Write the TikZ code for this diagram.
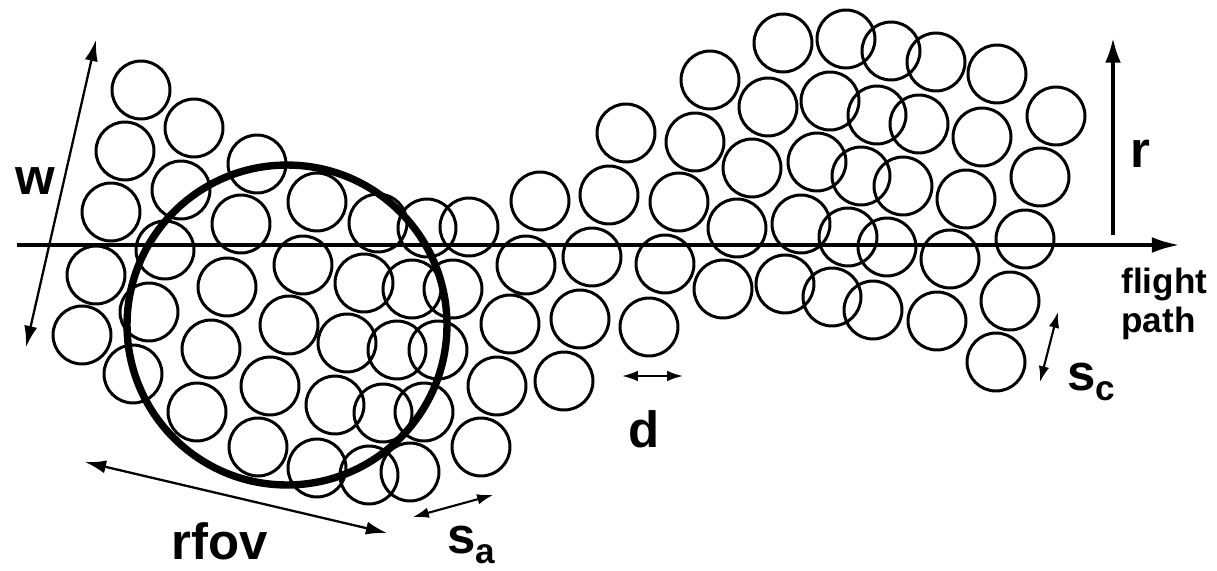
\documentclass[tikz,border=0pt]{standalone}
\usepackage{xcolor}
\usepackage{fontspec}
\setsansfont{Liberation Sans}
\usepackage{tikz}
\usetikzlibrary{arrows.meta}

\tikzset{
  drop/.style={line width=1.7pt},
  fov/.style={line width=4.2pt},
  dimsmall/.style={line width=1.2pt,
    arrows={Latex[length=9pt,width=6pt]-Latex[length=9pt,width=6pt]}},
  dimlong/.style={line width=1.3pt,
    arrows={Latex[length=12pt,width=7.5pt]-Latex[length=12pt,width=7.5pt]}},
  axisline/.style={line width=2.3pt, arrows={-Latex[length=16pt,width=9pt]}},
  lbl/.style={font=\sffamily\bfseries\fontsize{29}{31}\selectfont, inner sep=0pt}
}

\begin{document}
\begin{tikzpicture}[x=0.02cm, y=-0.02cm]
  \useasboundingbox (0,0) rectangle (1217,571);
  %
  % drops, left part
  \draw[drop] (141,90) circle[radius=0.58cm] (194,128) circle[radius=0.58cm]
    (125,151) circle[radius=0.58cm] (257,164) circle[radius=0.58cm]
    (181,190) circle[radius=0.58cm] (111,212) circle[radius=0.58cm]
    (241,224) circle[radius=0.58cm] (165,250) circle[radius=0.58cm]
    (96,275) circle[radius=0.58cm] (227,287) circle[radius=0.58cm]
    (317,202) circle[radius=0.58cm] (303,265) circle[radius=0.58cm]
    (82,335) circle[radius=0.58cm] (149,312) circle[radius=0.58cm]
    (289,325) circle[radius=0.58cm] (133,374) circle[radius=0.58cm]
    (211,349) circle[radius=0.58cm] (270,386) circle[radius=0.58cm]
    (197,412) circle[radius=0.58cm] (258,447) circle[radius=0.58cm]
    (317,468) circle[radius=0.58cm] ;
  %
  % drops, middle part
  \draw[drop] (378,223) circle[radius=0.58cm] (427,228) circle[radius=0.58cm]
    (469,227) circle[radius=0.58cm] (540,201) circle[radius=0.58cm]
    (364,283) circle[radius=0.58cm] (412,289) circle[radius=0.58cm]
    (453,289) circle[radius=0.58cm] (526,265) circle[radius=0.58cm]
    (347,343) circle[radius=0.58cm] (397,350) circle[radius=0.58cm]
    (438,350) circle[radius=0.58cm] (510,324) circle[radius=0.58cm]
    (335,405) circle[radius=0.58cm] (383,413) circle[radius=0.58cm]
    (424,412) circle[radius=0.58cm] (497,386) circle[radius=0.58cm]
    (564,381) circle[radius=0.58cm] (481,447) circle[radius=0.58cm]
    (369,475) circle[radius=0.58cm] (410,472) circle[radius=0.58cm]
    (580,319) circle[radius=0.58cm] (649,327) circle[radius=0.58cm]
    (592,257) circle[radius=0.58cm] (609,195) circle[radius=0.58cm] ;
  %
  % drops, right part
  \draw[drop] (626,133) circle[radius=0.58cm] (710,80) circle[radius=0.58cm]
    (768,107) circle[radius=0.58cm] (783,43) circle[radius=0.58cm]
    (846,39) circle[radius=0.58cm] (891,51) circle[radius=0.58cm]
    (936,62) circle[radius=0.58cm] (997,74) circle[radius=0.58cm]
    (830,101) circle[radius=0.58cm] (877,115) circle[radius=0.58cm]
    (919,124) circle[radius=0.58cm] (982,137) circle[radius=0.58cm]
    (1056,116) circle[radius=0.58cm] (695,142) circle[radius=0.58cm]
    (752,168) circle[radius=0.58cm] (817,162) circle[radius=0.58cm]
    (861,176) circle[radius=0.58cm] (903,186) circle[radius=0.58cm]
    (966,199) circle[radius=0.58cm] (1040,177) circle[radius=0.58cm]
    (679,202) circle[radius=0.58cm] (737,228) circle[radius=0.58cm]
    (801,224) circle[radius=0.58cm] (848,237) circle[radius=0.58cm]
    (887,247) circle[radius=0.58cm] (950,259) circle[radius=0.58cm]
    (1025,239) circle[radius=0.58cm] (665,264) circle[radius=0.58cm]
    (723,289) circle[radius=0.58cm] (785,284) circle[radius=0.58cm]
    (832,297) circle[radius=0.58cm] (873,310) circle[radius=0.58cm]
    (937,321) circle[radius=0.58cm] (1010,301) circle[radius=0.58cm]
    (996,362) circle[radius=0.58cm] ;
  %
  % field of view
  \draw[fov] (287,325) circle[radius=3.2cm] ;
  %
  \coordinate (fp-start) at (17,245) ;
  \coordinate (fp-end) at (1180,245) ;
  \coordinate (r-foot) at (1113,235) ;
  \coordinate (r-top) at (1113,38) ;
  \coordinate (w-bot) at (26,347) ;
  \coordinate (w-top) at (96,40) ;
  \coordinate (rfov-a) at (85,462) ;
  \coordinate (rfov-b) at (387,533) ;
  \coordinate (sa-a) at (413,517) ;
  \coordinate (sa-b) at (493,495) ;
  \coordinate (d-a) at (622,376) ;
  \coordinate (d-b) at (683,376) ;
  \coordinate (sc-a) at (1040,382) ;
  \coordinate (sc-b) at (1058,312) ;
  %
  \draw[axisline] (fp-start) -- (fp-end) ;
  \draw[line width=2pt, arrows={-Latex[length=14pt,width=9pt]}] (r-foot) -- (r-top) ;
  \draw[dimlong] (w-bot) -- (w-top) ;
  \draw[dimlong] (rfov-a) -- (rfov-b) ;
  \draw[dimsmall] (sa-a) -- (sa-b) ;
  \draw[dimsmall] (d-a) -- (d-b) ;
  \draw[dimsmall] (sc-a) -- (sc-b) ;
  %
  \node[lbl] (wlabel) at (35,181) {w} ;
  \node[lbl, anchor=base] (rlabel) at (1140,167) {r} ;
  \node[lbl, anchor=base] (rfovlabel) at (220,559) {rfov} ;
  \node[lbl, anchor=base] (dlabel) at (644,447) {d} ;
  \node[lbl, anchor=base west] (salabel) at (447,553)
    {s\raisebox{-6pt}{\fontsize{20}{20}\selectfont a}} ;
  \node[lbl, anchor=base west] (sclabel) at (1067,390)
    {s\raisebox{-6pt}{\fontsize{20}{20}\selectfont c}} ;
  \node[lbl, anchor=north west, align=left, font=\sffamily\bfseries\fontsize{20}{22}\selectfont]
    (fplabel) at (1121,268) {flight\\path} ;
\end{tikzpicture}
\end{document}
